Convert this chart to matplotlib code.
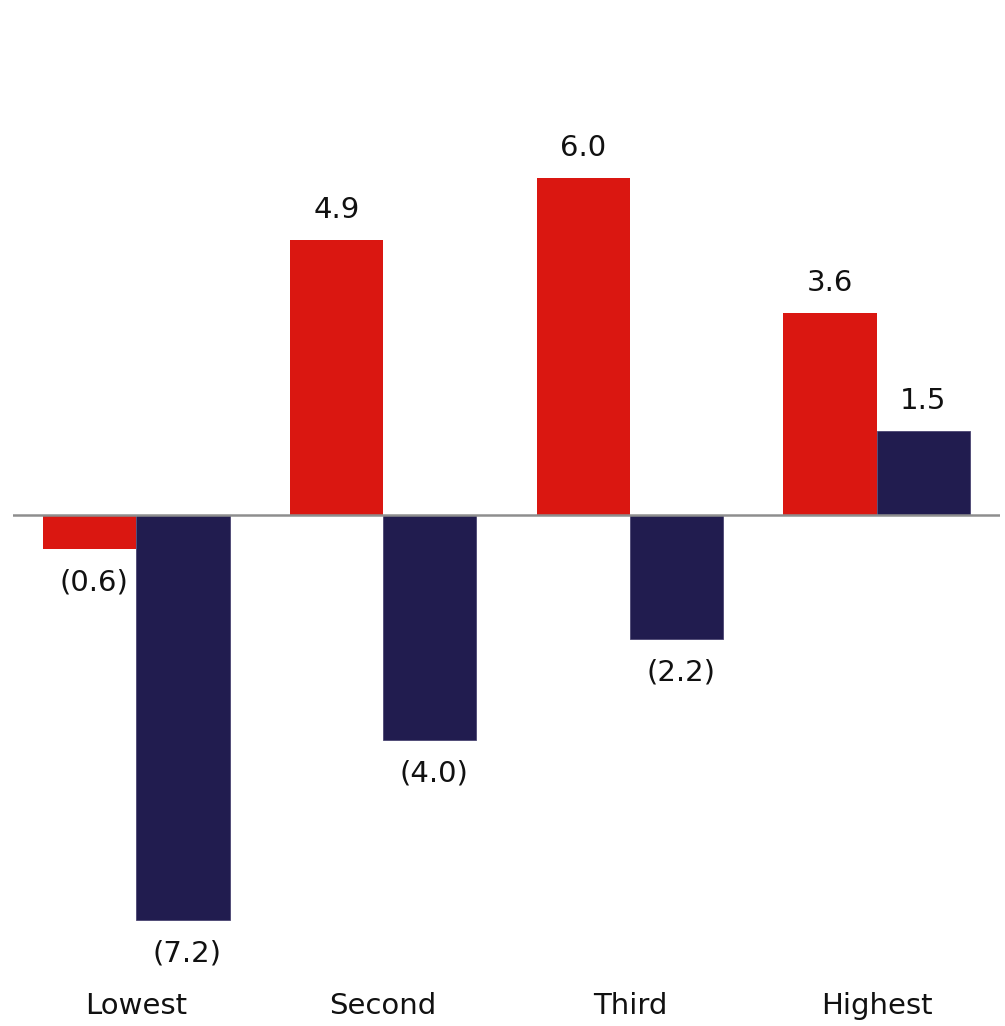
import matplotlib
matplotlib.use("Agg")
import matplotlib.pyplot as plt
import numpy as np

# Income groups and the two series of changes
categories = ["Lowest", "Second", "Third", "Highest"]
series_red = [-0.6, 4.9, 6.0, 3.6]
series_navy = [-7.2, -4.0, -2.2, 1.5]

RED = "#DA1711"
NAVY = "#211C4F"
ZERO_LINE = "#8E8E8E"

plt.rcParams["font.family"] = ["DejaVu Sans"]
FS = 21

fig = plt.figure(figsize=(10.05, 10.26), dpi=100)
ax = fig.add_axes([0.01294, 0.05897, 0.98209, 0.93202])

x = np.arange(len(categories))
w = 0.378

bars_r = ax.bar(x - w / 2, series_red, width=w, color=RED, linewidth=0, zorder=2)
bars_n = ax.bar(x + w / 2, series_navy, width=w, color=NAVY,
                edgecolor="#4a4572", linewidth=0.6, zorder=2)

ax.axhline(0, color=ZERO_LINE, linewidth=1.8, zorder=3)


def fmt(v):
    return f"({abs(v):.1f})" if v < 0 else f"{v:.1f}"


for bars, vals in ((bars_r, series_red), (bars_n, series_navy)):
    for b, v in zip(bars, vals):
        cx = b.get_x() + b.get_width() / 2
        if v >= 0:
            ax.annotate(fmt(v), (cx, v), xytext=(0, 16), textcoords="offset points",
                        ha="center", va="baseline", fontsize=FS, color="#111111")
        else:
            ax.annotate(fmt(v), (cx, v), xytext=(3, -14), textcoords="offset points",
                        ha="center", va="top", fontsize=FS, color="#111111")

ax.set_xlim(-0.5, 3.5)
ax.set_ylim(-8, 9)
ax.set_xticks(x)
ax.set_xticklabels(categories, fontsize=FS, color="#111111")
ax.tick_params(axis="x", length=0, pad=19)
ax.set_yticks([])
for s in ax.spines.values():
    s.set_visible(False)

fig.savefig("out.png", dpi=100, facecolor="white")
